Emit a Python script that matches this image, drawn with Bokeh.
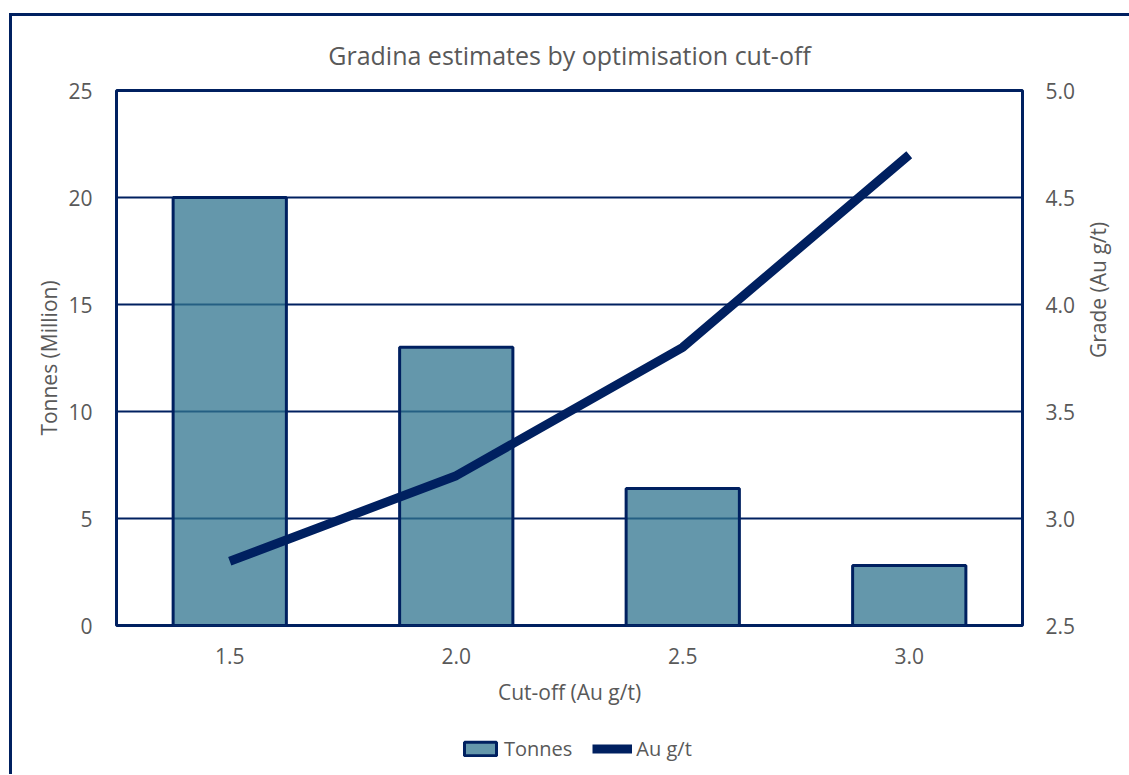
import math
from bokeh.plotting import figure
from bokeh.layouts import column
from bokeh.models import (Range1d, FactorRange, LinearAxis, FixedTicker,
                          NumeralTickFormatter, Legend, LegendItem, ColumnDataSource)
from bokeh.embed import file_html
from bokeh.resources import INLINE

cutoffs = ["1.5", "2.0", "2.5", "3.0"]
tonnes = [20.0, 13.0, 6.4, 2.8]
grade = [2.8, 3.2, 3.8, 4.7]
left_ticks = [0, 5, 10, 15, 20, 25]
right_ticks = [2.5, 3.0, 3.5, 4.0, 4.5, 5.0]
series_names = ["Tonnes", "Au g/t"]

NAVY = "#002060"
BAR = "#30748F"     # at alpha 0.75 over white it shows as #6497AB
BAR_ALPHA = 0.75
TXT = "#595959"
FONT = "Open Sans"

src = ColumnDataSource(dict(x=cutoffs, t=tonnes, g=grade))

p = figure(x_range=cutoffs, y_range=Range1d(0, 25), width=1117, height=710,
           output_backend="svg", toolbar_location=None,
           title="Gradina estimates by optimisation cut-off",
           min_border_left=104, min_border_right=98, min_border_top=74,
           min_border_bottom=101)

p.title.align = "center"
p.title.text_font = FONT
p.title.text_font_size = "25px"
p.title.text_font_style = "normal"
p.title.text_color = TXT
p.title.standoff = 38

p.outline_line_color = NAVY
p.outline_line_width = 3
p.xgrid.grid_line_color = None
p.ygrid.grid_line_color = NAVY
p.ygrid.grid_line_width = 2

p.extra_y_ranges = {"grade": Range1d(2.5, 5.0)}

bars = p.vbar(x="x", top="t", bottom=0, width=0.5, source=src,
              fill_color=BAR, fill_alpha=BAR_ALPHA, line_color=NAVY, line_width=3)
line = p.line(x="x", y="g", source=src, y_range_name="grade",
              line_color=NAVY, line_width=9)

yl = p.yaxis[0]
yl.ticker = FixedTicker(ticks=left_ticks)
yl.axis_label = "Tonnes (Million)"

yr = LinearAxis(y_range_name="grade", axis_label="Grade (Au g/t)")
yr.ticker = FixedTicker(ticks=right_ticks)
yr.formatter = NumeralTickFormatter(format="0.0")
yr.axis_label_orientation = math.pi / 2
p.add_layout(yr, "right")

p.xaxis.axis_label = "Cut-off (Au g/t)"

for ax in [p.xaxis[0], yl, yr]:
    ax.axis_line_color = None
    ax.major_tick_line_color = None
    ax.minor_tick_line_color = None
    ax.major_tick_out = 0
    ax.major_tick_in = 0
    ax.minor_tick_out = 0
    ax.major_label_text_font = FONT
    ax.major_label_text_font_size = "21px"
    ax.major_label_text_color = TXT
    ax.axis_label_text_font = FONT
    ax.axis_label_text_font_size = "21px"
    ax.axis_label_text_font_style = "normal"
    ax.axis_label_text_color = TXT

yl.major_label_standoff = 24
yr.major_label_standoff = 23
yl.axis_label_standoff = 2
yr.axis_label_standoff = 20
p.xaxis[0].major_label_standoff = 22
p.xaxis[0].axis_label_standoff = 11

# legend strip below the chart (hidden renderers only feed the legend glyphs)
lf = figure(width=1117, height=48, output_backend="svg", toolbar_location=None,
            x_range=FactorRange(*cutoffs), y_range=Range1d(0, 25),
            min_border=0, min_border_left=0, min_border_right=0,
            min_border_top=0, min_border_bottom=0)
lf.axis.visible = False
lf.grid.visible = False
lf.outline_line_color = None
lb = lf.vbar(x="x", top="t", bottom=0, width=0.5, source=src,
             fill_color=BAR, fill_alpha=BAR_ALPHA, line_color=NAVY, line_width=3,
             visible=False)
ll = lf.line(x="x", y="g", source=src, line_color=NAVY, line_width=9,
             visible=False)

legend = Legend(items=[LegendItem(label=series_names[0], renderers=[lb]),
                       LegendItem(label=series_names[1], renderers=[ll])],
                orientation="horizontal", location=(344, 12))
legend.label_text_font = FONT
legend.label_text_font_size = "20px"
legend.label_text_color = TXT
legend.glyph_width = 40
legend.glyph_height = 17
legend.border_line_color = None
legend.background_fill_color = None
legend.inactive_fill_alpha = 0
legend.spacing = 20
legend.label_standoff = 4
legend.margin = 0
legend.padding = 0
lf.add_layout(legend)

layout = column(p, lf, spacing=0)
layout.margin = (13, 0, 0, 9)
layout.styles = {"border-left": f"3px solid {NAVY}", "border-top": f"3px solid {NAVY}"}

open("out.html", "w").write(file_html(layout, INLINE))
